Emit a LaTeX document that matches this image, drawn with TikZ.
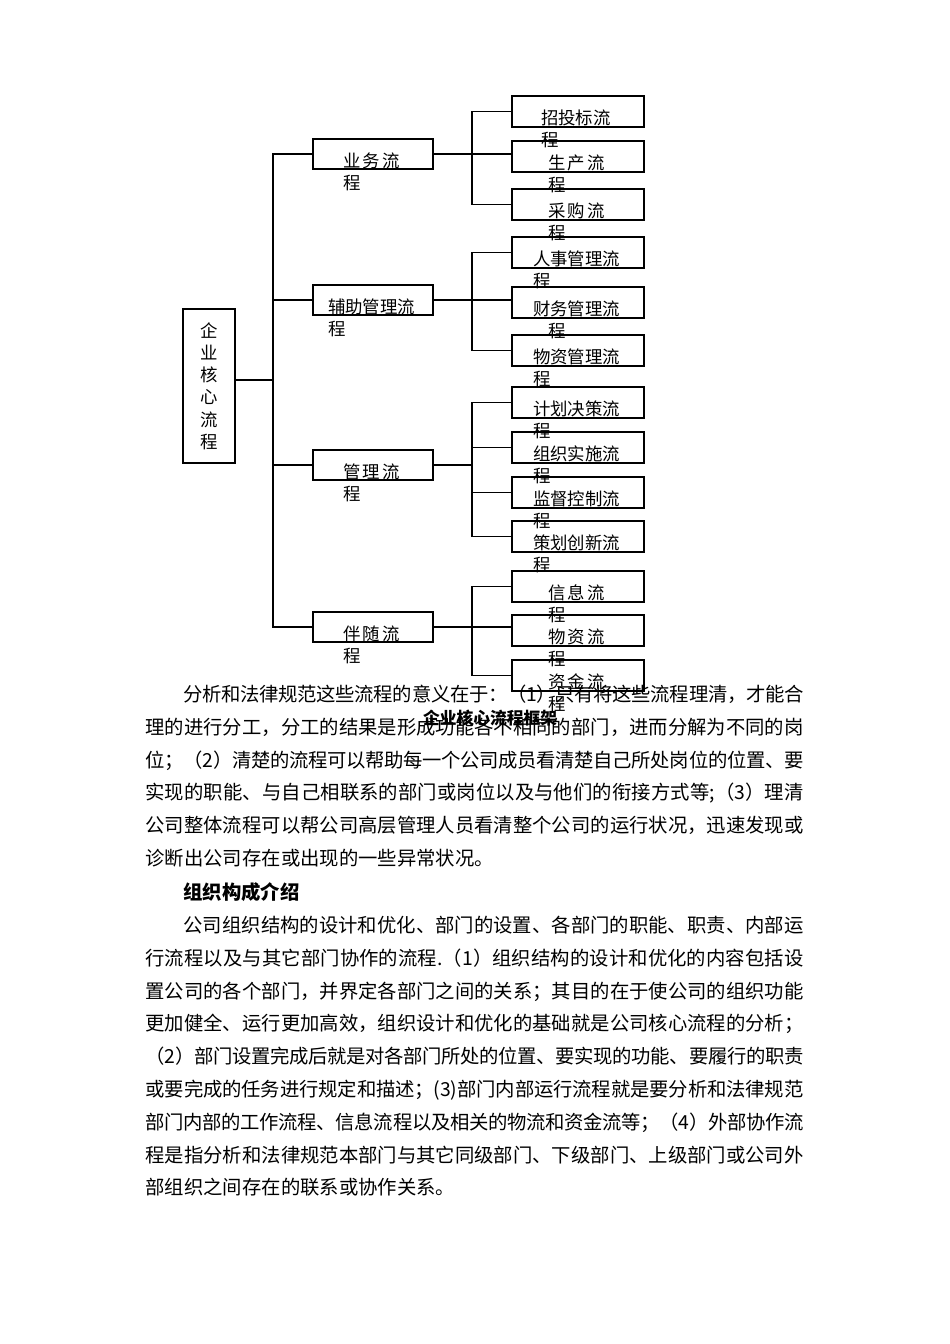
\documentclass[tikz,border=0pt]{standalone}
\usepackage{fontspec}
\setmainfont{Noto Sans CJK SC}
\usetikzlibrary{calc}

% justified line: glue between every two characters
\def\spreadfirst#1{#1\spreadrest}
\def\spreadrest#1{\ifx#1\relax\else\hskip 0pt plus 4pt minus 2pt\relax#1\expandafter\spreadrest\fi}
\newcommand\jline[2]{\makebox[#1][s]{\spreadfirst#2\relax}}

\begin{document}
\begin{tikzpicture}[x=1pt, y=-1pt, line width=1.1pt,
    box/.style={draw, inner sep=0pt},
    mainbox/.style={box, minimum width=120pt, minimum height=30pt},
    subbox/.style={box, minimum width=132pt, minimum height=31pt},
    lbl/.style={font=\fontsize{17.4}{22}\selectfont, inner sep=0pt, anchor=north west, align=left},
    para/.style={font=\fontsize{19.35}{20}\selectfont, inner sep=0pt, anchor=base west}]
  \useasboundingbox (0,0) rectangle (950,1344);

  % root and first level
  \node[box, minimum width=52pt, minimum height=154pt, align=center, font=\fontsize{17.4}{22.2}\selectfont] (core) at (209,386) {企\\业\\核\\心\\流\\程};

  \node[mainbox] (business) at (373,154) {};
  \node[mainbox] (support) at (373,300) {};
  \node[mainbox] (manage) at (373,465) {};
  \node[mainbox] (assist) at (373,627) {};

  % second level
  \node[subbox] (tender) at (578,111.5) {};
  \node[subbox] (production) at (578,156.5) {};
  \node[subbox] (purchase) at (578,204.5) {};
  \node[subbox] (personnel) at (578,252.5) {};
  \node[subbox] (finance) at (578,302.5) {};
  \node[subbox] (material) at (578,350.5) {};
  \node[subbox] (planning) at (578,402.5) {};
  \node[subbox] (organizing) at (578,447.5) {};
  \node[subbox] (supervising) at (578,492.5) {};
  \node[subbox] (innovating) at (578,536.5) {};
  \node[subbox] (information) at (578,586.5) {};
  \node[subbox] (goods) at (578,630.5) {};
  \node[subbox] (capital) at (578,675.5) {};

  % box texts
  \node[lbl] at ($(business.north west)+(30,14)$) {业\hspace{2.5pt}务\hspace{2.5pt}流\\程};
  \node[lbl] at ($(support.north west)+(15,14)$) {辅助管理流\\程};
  \node[lbl] at ($(manage.north west)+(30,14)$) {管\hspace{2.5pt}理\hspace{2.5pt}流\\程};
  \node[lbl] at ($(assist.north west)+(30,14)$) {伴\hspace{2.5pt}随\hspace{2.5pt}流\\程};

  \node[lbl] at ($(tender.north west)+(29,14)$) {招投标流\\程};
  \node[lbl] at ($(production.north west)+(36,14)$) {生\hspace{2.5pt}产\hspace{2.5pt}流\\程};
  \node[lbl] at ($(purchase.north west)+(36,14)$) {采\hspace{2.5pt}购\hspace{2.5pt}流\\程};
  \node[lbl] at ($(personnel.north west)+(21,14)$) {人事管理流\\程};
  \node[lbl] at ($(finance.north west)+(21,14)$) {财务管理流\\\hspace*{15pt}程};
  \node[lbl] at ($(material.north west)+(21,14)$) {物资管理流\\程};
  \node[lbl] at ($(planning.north west)+(21,14)$) {计划决策流\\程};
  \node[lbl] at ($(organizing.north west)+(21,14)$) {组织实施流\\程};
  \node[lbl] at ($(supervising.north west)+(21,14)$) {监督控制流\\程};
  \node[lbl] at ($(innovating.north west)+(21,14)$) {策划创新流\\程};
  \node[lbl] at ($(information.north west)+(36,14)$) {信\hspace{2.5pt}息\hspace{2.5pt}流\\程};
  \node[lbl] at ($(goods.north west)+(36,14)$) {物\hspace{2.5pt}资\hspace{2.5pt}流\\程};
  \node[lbl] at ($(capital.north west)+(36,14)$) {资\hspace{2.5pt}金\hspace{2.5pt}流\\程};

  % connectors
  \coordinate (trunk) at (273,0);
  \coordinate (branch) at (472,0);
  \coordinate (coreout) at ([yshift=6pt]core.east);
  \draw (coreout) -- (coreout -| trunk);
  \draw (business.west) -- (business.west -| trunk) |- (assist.west);
  \draw (support.west) -- (support.west -| trunk);
  \draw (manage.west) -- (manage.west -| trunk);

  \draw (tender.west) -- (tender.west -| branch) |- (purchase.west);
  \draw (business.east) -- (business.east -| production.west);
  \draw (personnel.west) -- (personnel.west -| branch) |- (material.west);
  \draw (support.east) -- (support.east -| finance.west);
  \draw (planning.west) -- (planning.west -| branch) |- (innovating.west);
  \draw (manage.east) -- (manage.east -| branch);
  \draw (organizing.west) -- (organizing.west -| branch);
  \draw (supervising.west) -- (supervising.west -| branch);
  \draw (information.west) -- (information.west -| branch) |- (capital.west);
  \draw (assist.east) -- (assist.east -| goods.west);

  \node[font=\bfseries\fontsize{16.75}{20}\selectfont, inner sep=0pt] (caption) at (490,718) {企业核心流程框架};

  % text below the chart
  \node[para] (p1a) at (183,701.4) {\jline{620pt}{分析和法律规范这些流程的意义在于：（1）只有将这些流程理清，才能合}};
  \node[para] (p1b) at (145,734.2) {\jline{658pt}{理的进行分工，分工的结果是形成功能各不相同的部门，进而分解为不同的岗}};
  \node[para] (p1c) at (145,767.0) {\jline{658pt}{位；（2）清楚的流程可以帮助每一个公司成员看清楚自己所处岗位的位置、要}};
  \node[para] (p1d) at (145,799.8) {\jline{658pt}{实现的职能、与自己相联系的部门或岗位以及与他们的衔接方式等;（3）理清}};
  \node[para] (p1e) at (145,832.6) {\jline{658pt}{公司整体流程可以帮公司高层管理人员看清整个公司的运行状况，迅速发现或}};
  \node[para] (p1f) at (145,865.4) {诊断出公司存在或出现的一些异常状况。};

  \node[para, font=\bfseries\fontsize{19.35}{20}\selectfont] (heading) at (183,899.4) {组织构成介绍};

  \node[para] (p2a) at (183,932.4) {\jline{620pt}{公司组织结构的设计和优化、部门的设置、各部门的职能、职责、内部运}};
  \node[para] (p2b) at (145,965.2) {\jline{658pt}{行流程以及与其它部门协作的流程.（1）组织结构的设计和优化的内容包括设}};
  \node[para] (p2c) at (145,998.0) {\jline{658pt}{置公司的各个部门，并界定各部门之间的关系；其目的在于使公司的组织功能}};
  \node[para] (p2d) at (145,1030.8) {\jline{658pt}{更加健全、运行更加高效，组织设计和优化的基础就是公司核心流程的分析；}};
  \node[para] (p2e) at (145,1063.6) {\jline{658pt}{（2）部门设置完成后就是对各部门所处的位置、要实现的功能、要履行的职责}};
  \node[para] (p2f) at (145,1096.4) {\jline{658pt}{或要完成的任务进行规定和描述；(3)部门内部运行流程就是要分析和法律规范}};
  \node[para] (p2g) at (145,1129.2) {\jline{658pt}{部门内部的工作流程、信息流程以及相关的物流和资金流等；（4）外部协作流}};
  \node[para] (p2h) at (145,1162.0) {\jline{658pt}{程是指分析和法律规范本部门与其它同级部门、下级部门、上级部门或公司外}};
  \node[para] (p2i) at (145,1194.8) {部组织之间存在的联系或协作关系。};
\end{tikzpicture}
\end{document}
